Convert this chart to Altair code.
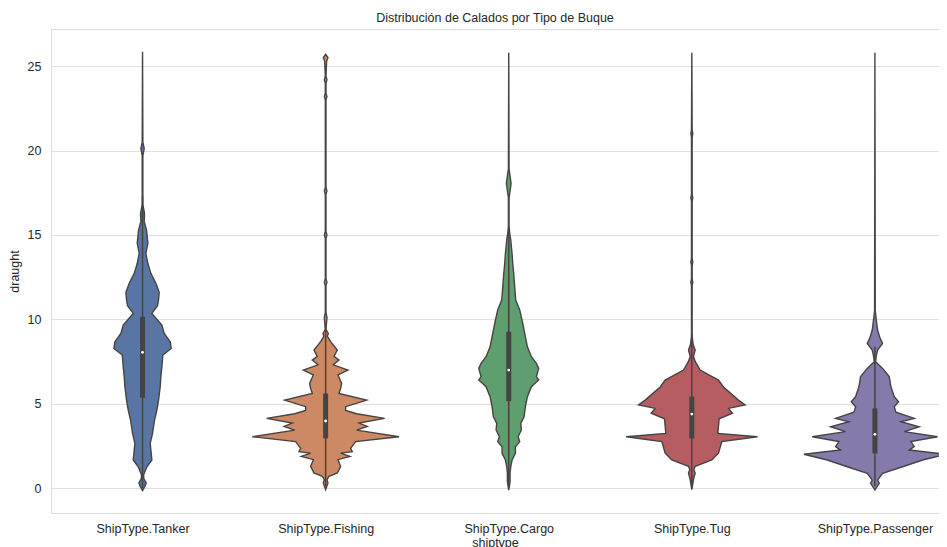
import altair as alt
import pandas as pd

ship_types = ["ShipType.Tanker", "ShipType.Fishing", "ShipType.Cargo", "ShipType.Tug", "ShipType.Passenger"]
colors = ["#5975a4", "#cc8963", "#5f9e6e", "#b55d60", "#857aab"]

# violin profiles: draught value and relative density (half-width)
tanker_y = [-0.15, 0.1, 0.31, 0.55, 0.75, 0.87, 1.26, 1.66, 2.06, 2.65, 3.24, 4.03, 4.62, 5.21, 6.0, 6.6, 7.19, 7.88, 8.27, 8.67, 9.16, 9.66, 10.35, 10.8, 11.14, 11.6, 12.13, 12.72, 13.3, 13.9, 14.5, 15.28, 15.8, 16.27, 16.8, 18.0, 19.7, 20.1, 20.5, 25.85]
tanker_d = [0, 7, 11, 4, 3, 5, 13, 28, 26, 23, 30, 36, 43, 48, 53, 55, 58, 61, 86, 83, 65, 58, 28, 45, 48, 50, 40, 25, 16, 10, 16, 12, 5, 6, 1, 1, 1, 5, 1, 0]

fishing_y = [-0.1, 0.3, 0.5, 0.69, 0.89, 1.28, 1.68, 1.87, 2.07, 2.16, 2.35, 2.75, 3.04, 3.43, 3.65, 3.85, 4.13, 4.4, 4.6, 4.82, 5.21, 5.6, 5.9, 6.2, 6.7, 6.99, 7.3, 7.58, 7.8, 8.18, 8.67, 9.0, 9.16, 9.4, 10.1, 10.4, 12.0, 12.2, 12.4, 14.8, 15.0, 15.2, 17.4, 17.6, 17.8, 23.0, 23.2, 23.4, 24.0, 24.2, 24.4, 25.3, 25.5, 25.7]
fishing_d = [0, 7, 4, 10, 35, 45, 37, 73, 45, 80, 75, 90, 220, 93, 125, 100, 177, 93, 60, 60, 123, 40, 45, 48, 37, 67, 23, 40, 25, 35, 15, 5, 8, 1, 4, 1, 1, 4, 1, 1, 4, 1, 1, 4, 1, 1, 4, 1, 1, 4, 1, 3, 7, 0]

cargo_y = [-0.12, 0.37, 0.87, 1.26, 1.66, 2.06, 2.45, 2.75, 3.04, 3.44, 3.83, 4.22, 4.82, 5.41, 6.0, 6.4, 6.6, 7.09, 7.39, 7.78, 8.37, 9.16, 9.95, 10.55, 11.14, 11.9, 12.7, 13.3, 13.9, 14.3, 14.7, 15.09, 15.5, 17.2, 17.6, 18.05, 18.5, 18.9, 25.8]
cargo_d = [0, 4, 4, 6, 10, 20, 20, 33, 28, 38, 36, 46, 50, 56, 68, 90, 83, 90, 83, 68, 56, 48, 40, 33, 21, 18, 15, 12, 10, 8, 6, 3, 1, 1, 4, 7, 4, 1, 0]

tug_y = [-0.1, 0.5, 0.89, 1.1, 1.28, 1.66, 2.06, 2.75, 3.04, 3.24, 4.1, 4.43, 4.72, 4.92, 5.21, 5.99, 6.4, 6.99, 7.5, 7.8, 8.18, 8.5, 9.0, 12.0, 12.2, 12.4, 13.2, 13.4, 13.6, 17.0, 17.2, 17.4, 20.8, 21.0, 21.2, 25.8]
tug_d = [0, 5, 10, 6, 10, 60, 80, 90, 197, 78, 82, 122, 110, 160, 140, 95, 80, 25, 10, 5, 10, 4, 1, 1, 3, 1, 1, 3, 1, 1, 3, 1, 1, 3, 1, 0]

passenger_y = [-0.12, 0.28, 0.47, 0.87, 1.26, 1.66, 2.0, 2.25, 2.45, 2.75, 3.04, 3.34, 3.63, 3.93, 4.13, 4.5, 4.82, 5.11, 5.41, 6.0, 6.6, 7.09, 7.48, 7.8, 8.18, 8.57, 8.9, 9.36, 10.15, 10.5, 25.8]
passenger_d = [0, 13, 8, 23, 83, 143, 213, 103, 118, 108, 188, 88, 133, 78, 118, 63, 58, 71, 58, 48, 43, 23, 2, 4, 8, 23, 15, 8, 3, 1, 0]

# inner box statistics
whisker_lo = [0.0, 0.1, 0.0, 0.0, 0.1]
q1 = [5.35, 2.94, 5.15, 2.94, 2.05]
median = [8.04, 3.97, 6.99, 4.38, 3.18]
q3 = [10.15, 5.6, 9.26, 5.41, 4.72]
whisker_hi = [17.3, 9.6, 15.4, 9.1, 8.37]

profiles = [(tanker_y, tanker_d), (fishing_y, fishing_d), (cargo_y, cargo_d), (tug_y, tug_d), (passenger_y, passenger_d)]
rows = []
for i, (ys, ds) in enumerate(profiles):
    for y, d in zip(ys, ds):
        rows.append({"shiptype": ship_types[i], "idx": i, "draught": y, "density": d})
vdf = pd.DataFrame(rows)

bdf = pd.DataFrame({"shiptype": ship_types, "idx": list(range(5)), "lo": whisker_lo,
                    "q1": q1, "median": median, "q3": q3, "hi": whisker_hi})

FONT = "Liberation Sans"
FS = 12.5
TXT = "#262626"
xscale = alt.Scale(domain=[-0.5, 4.35], nice=False, zero=False)
yscale = alt.Scale(domain=[-1.48, 27.2], nice=False, zero=False)
label_expr = "[" + ",".join("'" + s + "'" for s in ship_types) + "][datum.value]"

yaxis = alt.Axis(values=[0, 5, 10, 15, 20, 25], grid=True, gridColor="#e0e0e0", gridWidth=1.2,
                 ticks=False, domain=False, labelPadding=10, titlePadding=6,
                 labelFont=FONT, labelFontSize=FS, labelColor=TXT,
                 titleFont=FONT, titleFontSize=FS, titleColor=TXT, titleFontWeight=400)
xaxis = alt.Axis(values=[0, 1, 2, 3, 4], labelExpr=label_expr, grid=False, ticks=False,
                 domain=False, labelPadding=9, titlePadding=2,
                 labelFont=FONT, labelFontSize=FS, labelColor=TXT,
                 titleFont=FONT, titleFontSize=FS, titleColor=TXT, titleFontWeight=400)

violins = alt.Chart(vdf).transform_calculate(
    left="datum.idx - datum.density * 0.00182",
    right="datum.idx + datum.density * 0.00182",
).mark_area(orient="horizontal", stroke="#444444", strokeWidth=1.4, opacity=1, clip=True).encode(
    y=alt.Y("draught:Q", scale=yscale, title="draught", axis=yaxis),
    x=alt.X("left:Q", scale=xscale, title="shiptype", axis=xaxis),
    x2="right:Q",
    color=alt.Color("shiptype:N", scale=alt.Scale(domain=ship_types, range=colors), legend=None),
    detail="shiptype:N",
)

whiskers = alt.Chart(bdf).mark_rule(color="#444444", strokeWidth=1.5).encode(
    x=alt.X("idx:Q", scale=xscale), y=alt.Y("lo:Q", scale=yscale), y2="hi:Q")
boxes = alt.Chart(bdf).mark_rule(color="#444444", strokeWidth=5).encode(
    x=alt.X("idx:Q", scale=xscale), y=alt.Y("q1:Q", scale=yscale), y2="q3:Q")
medians = alt.Chart(bdf).mark_point(filled=True, color="white", size=8, opacity=1).encode(
    x=alt.X("idx:Q", scale=xscale), y=alt.Y("median:Q", scale=yscale))

chart = alt.layer(violins, whiskers, boxes, medians).properties(
    width=888, height=484,
    title=alt.TitleParams("Distribución de Calados por Tipo de Buque", fontSize=FS, font=FONT,
                          fontWeight=400, color=TXT, offset=5),
    padding={"left": 0, "top": 3, "right": 0, "bottom": 0},
).configure_view(stroke="#cccccc", strokeWidth=1.2).configure(background="white")

chart.save("out.html", embed_options={"renderer": "svg", "actions": False})
